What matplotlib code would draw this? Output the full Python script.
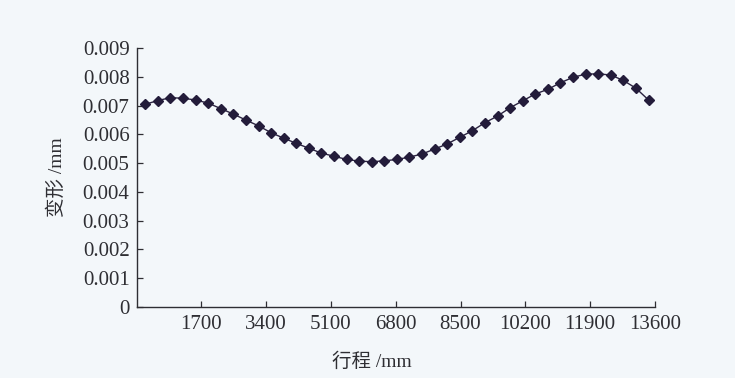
import matplotlib
matplotlib.use("Agg")
import matplotlib.pyplot as plt
from matplotlib.ticker import FixedLocator, FuncFormatter

# travel positions (mm) and deformation (mm)
stroke_mm = [230, 560, 890, 1220, 1550, 1880, 2210, 2540, 2870, 3200,
             3530, 3860, 4190, 4520, 4850, 5180, 5510, 5840, 6170, 6500,
             6830, 7160, 7490, 7820, 8150, 8480, 8810, 9140, 9470, 9800,
             10130, 10460, 10790, 11120, 11450, 11780, 12110, 12440, 12770, 13100,
             13430]
deform_mm = [0.00705, 0.00718, 0.00728, 0.00726, 0.00720, 0.00709, 0.00690, 0.00671, 0.00650, 0.00630,
             0.00606, 0.00587, 0.00569, 0.00552, 0.00535, 0.00524, 0.00513, 0.00507, 0.00505, 0.00508,
             0.00513, 0.00521, 0.00532, 0.00549, 0.00567, 0.00590, 0.00613, 0.00641, 0.00664, 0.00693,
             0.00717, 0.00741, 0.00757, 0.00780, 0.00799, 0.00810, 0.00811, 0.00807, 0.00788, 0.00761,
             0.00720]

x_ticks = [1700, 3400, 5100, 6800, 8500, 10200, 11900, 13600]
y_ticks = [0, 0.001, 0.002, 0.003, 0.004, 0.005, 0.006, 0.007, 0.008, 0.009]

x_title = "行程 /mm"
y_title = "变形 /mm"

fonts = ["Liberation Serif", "Noto Sans CJK SC"]
plt.rcParams["font.family"] = fonts

bg = "#f3f7fa"
ink = "#2e2e33"

fig = plt.figure(figsize=(7.35, 3.78), dpi=100, facecolor=bg)
ax = fig.add_axes([136.5 / 735, 1 - 306.7 / 378, (655 - 136.5) / 735, (306.7 - 48.3) / 378])
ax.set_facecolor(bg)

ax.plot(stroke_mm, deform_mm, color="#2b2340", lw=1.0, marker="D",
        markersize=5, markerfacecolor="#231c3a", markeredgecolor="#231c3a", zorder=3)

ax.set_xlim(0, 13600)
ax.set_ylim(0, 0.009)
ax.xaxis.set_major_locator(FixedLocator(x_ticks))
ax.yaxis.set_major_locator(FixedLocator(y_ticks))
ax.yaxis.set_major_formatter(FuncFormatter(lambda v, p: "0" if v == 0 else f"{v:.3f}"))

for side in ["top", "right"]:
    ax.spines[side].set_visible(False)
for side in ["left", "bottom"]:
    ax.spines[side].set_color(ink)
    ax.spines[side].set_linewidth(1.0)

ax.tick_params(axis="both", direction="in", length=4, width=0.9, color=ink,
               labelsize=15, labelcolor=ink)
ax.tick_params(axis="x", pad=6)
ax.tick_params(axis="y", pad=5)

fig.text(372 / 735, 1 - 362 / 378, x_title, ha="center", va="center",
         fontsize=14, color=ink, family=fonts)
fig.text(57 / 735, 1 - 177 / 378, y_title, ha="center", va="center",
         rotation=90, fontsize=14, color=ink, family=fonts)

fig.savefig("out.png", dpi=100, facecolor=bg)
